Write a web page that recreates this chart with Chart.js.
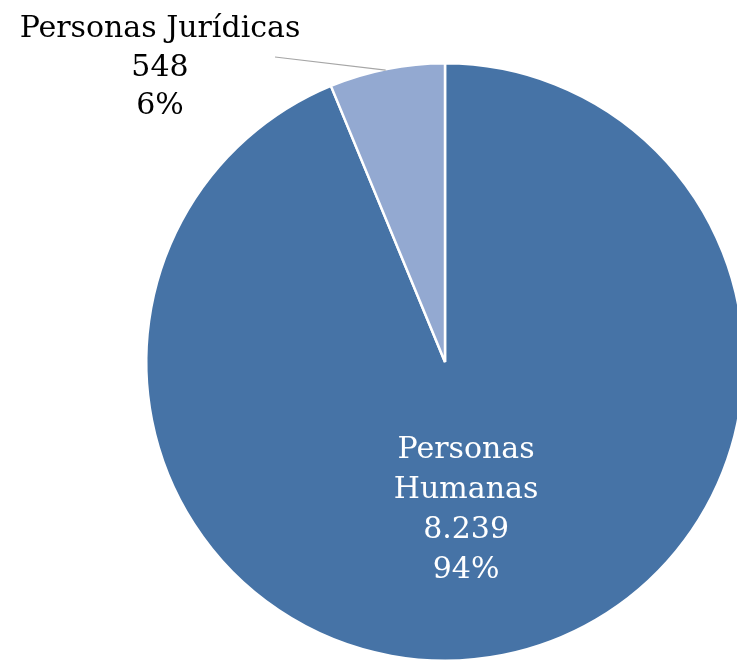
<!DOCTYPE html>
<html>
<head>
<meta charset="utf-8">
<script src="https://cdn.jsdelivr.net/npm/chart.js@4.4.0/dist/chart.umd.min.js"></script>
<style>
  html, body { margin: 0; padding: 0; width: 737px; height: 661px; overflow: hidden; background: #fff; }
  #wrap { position: absolute; left: 0; top: 0; width: 890px; height: 724px; }
</style>
</head>
<body>
<div id="wrap"><canvas id="myChart"></canvas></div>
<script>
const categories = ['Personas Humanas', 'Personas Jurídicas'];
const counts = [8239, 548];
const countLabels = ['8.239', '548'];
const percentLabels = ['94%', '6%'];
const sliceColors = ['#4673a6', '#93a9d1'];

const font = '30px "DejaVu Serif", serif';

// data labels: inside for the big slice, outside with a leader line for the small one
const labelPlugin = {
  id: 'labels',
  afterDraw(chart) {
    const ctx = chart.ctx;
    const arcs = chart.getDatasetMeta(0).data;
    ctx.save();
    ctx.font = font;
    ctx.textAlign = 'center';
    ctx.textBaseline = 'middle';

    const a0 = arcs[0];
    const mid0 = (a0.startAngle + a0.endAngle) / 2;
    const r0 = a0.outerRadius * 0.5;
    const x0 = a0.x + Math.cos(mid0) * r0 - 8;
    const y0 = a0.y + Math.sin(mid0) * r0;
    ctx.fillStyle = '#ffffff';
    const lines0 = ['Personas', 'Humanas', countLabels[0], percentLabels[0]];
    lines0.forEach((t, i) => ctx.fillText(t, x0, y0 - 58 + i * 40));

    const a1 = arcs[1];
    const ang = a1.endAngle - 0.2;
    ctx.strokeStyle = '#a6a6a6';
    ctx.lineWidth = 1.2;
    ctx.beginPath();
    ctx.moveTo(275, 57);
    ctx.lineTo(a1.x + Math.cos(ang) * a1.outerRadius, a1.y + Math.sin(ang) * a1.outerRadius + 1);
    ctx.stroke();
    ctx.fillStyle = '#000000';
    ctx.fillText(categories[1], 160, 29);
    ctx.fillText(countLabels[1], 160, 68);
    ctx.fillText(percentLabels[1], 160, 106);
    ctx.restore();
  }
};

const data = {
  labels: categories,
  datasets: [{
    data: counts,
    backgroundColor: sliceColors,
    borderColor: '#ffffff',
    borderWidth: 2.5
  }]
};

const config = {
  type: 'pie',
  data: data,
  options: {
    responsive: true,
    maintainAspectRatio: false,
    animation: false,
    layout: { padding: { left: 145, right: 145, top: 62, bottom: 62 } },
    plugins: {
      legend: { display: false },
      tooltip: { enabled: false }
    }
  },
  plugins: [labelPlugin]
};

const myChart = new Chart(document.getElementById('myChart'), config);
</script>
</body>
</html>
